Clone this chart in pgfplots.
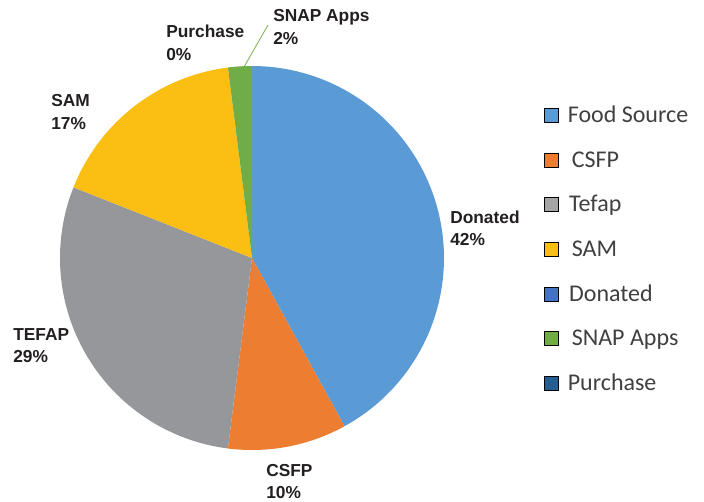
\documentclass[border=0pt]{standalone}
\usepackage{pgfplots}
\pgfplotsset{compat=1.18}
\usepackage{fontspec}
\setmainfont{Liberation Sans}
\newfontfamily\carlito{Carlito}
\definecolor{cDon}{HTML}{5B9BD5}
\definecolor{cCSFP}{HTML}{ED7D31}
\definecolor{cTef}{HTML}{96979A}
\definecolor{cTefL}{HTML}{A5A5A5}
\definecolor{cSAM}{HTML}{FBBF14}
\definecolor{cSNAP}{HTML}{70AD47}
\definecolor{cDonL}{HTML}{4472C4}
\definecolor{cPur}{HTML}{255E91}
\definecolor{lab}{HTML}{231F20}
\definecolor{legt}{HTML}{404040}
% cumulative angles from the shares: Donated 42, CSFP 10, TEFAP 29, SAM 17, Purchase 0, SNAP Apps 2
\newcommand{\slice}[3]{\addplot[fill=#1, draw=none, forget plot, domain=#2:#3, samples=90, variable=\t]
  ({252+192*cos(\t)},{243+192*sin(\t)}) -- (axis cs:252,243) -- cycle;}
\newcommand{\lbl}[4]{\node[anchor=base west, inner sep=0pt, font=\fontsize{13}{15}\selectfont\bfseries, text=lab] at (axis cs:#1,#2) {#3};
  \node[anchor=base west, inner sep=0pt, font=\fontsize{13}{15}\selectfont\bfseries, text=lab] at (axis cs:#1,#2-22.5) {#4};}
\begin{document}
\begin{tikzpicture}
\begin{axis}[
  anchor=south west, at={(0pt,0pt)},
  scale only axis, width=528pt, height=375.75pt,
  xmin=0, xmax=704, ymin=0, ymax=501,
  hide axis, clip=false,
  legend style={at={(axis cs:544,398.7)}, anchor=north west, draw=none, fill=none,
    inner sep=0pt, row sep=14.5pt, column sep=6.75pt,
    font=\carlito\fontsize{18}{20}\selectfont, text=legt,
    nodes={inner sep=0pt, text height=15pt, text depth=4pt}},
  legend cell align=left,
  legend image code/.code={\fill[#1] (0pt,-5.25pt) rectangle (10.5pt,5.25pt);},
]
\slice{cDon}{90}{-61.2}
\slice{cCSFP}{-61.2}{-97.2}
\slice{cTef}{-97.2}{-201.6}
\slice{cSAM}{-201.6}{-262.8}
\slice{cSNAP}{-262.8}{-270}
\addplot[cSNAP, line width=0.6pt, forget plot] coordinates {(244,434) (268,476)};
\addlegendimage{fill=cDon}\addlegendentry{Food Source}
\addlegendimage{fill=cCSFP}\addlegendentry{\hspace{3pt}CSFP}
\addlegendimage{fill=cTefL}\addlegendentry{\hspace{1pt}Tefap}
\addlegendimage{fill=cSAM}\addlegendentry{\hspace{3pt}SAM}
\addlegendimage{fill=cDonL}\addlegendentry{\hspace{1pt}Donated}
\addlegendimage{fill=cSNAP}\addlegendentry{\hspace{3pt}SNAP Apps}
\addlegendimage{fill=cPur}\addlegendentry{Purchase}
\lbl{450}{278}{Donated}{42\%}
\lbl{266}{25}{CSFP}{10\%}
\lbl{13}{161}{TEFAP}{29\%}
\lbl{51}{394}{SAM}{17\%}
\lbl{166}{463}{Purchase}{0\%}
\lbl{273}{479}{SNAP Apps}{2\%}
\end{axis}
\pgfresetboundingbox
\path (0pt,0pt) rectangle (528pt,375.75pt);
\end{tikzpicture}
\end{document}
